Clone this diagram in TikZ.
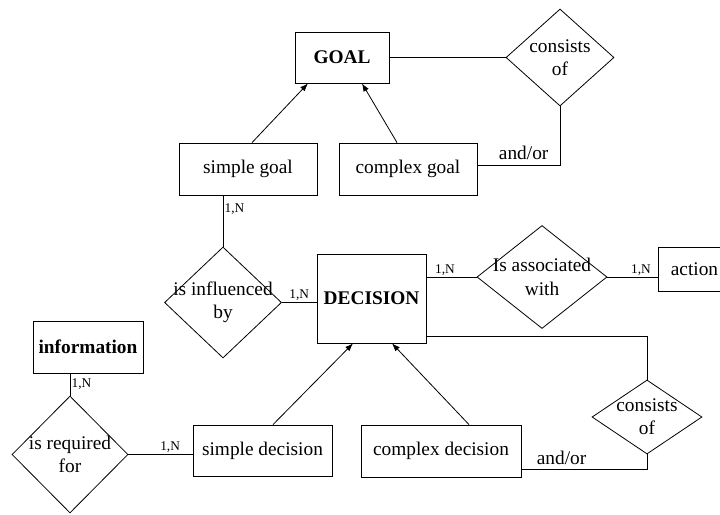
\documentclass[tikz,border=0pt]{standalone}
\usepackage{fontspec}
\setmainfont{Liberation Serif}
\usetikzlibrary{arrows.meta,shapes,positioning,calc}

\begin{document}
\begin{tikzpicture}[x=0.75pt,y=-0.75pt,line width=0.6pt,
	font=\fontsize{14.5}{17.5}\selectfont,
	>={Latex[length=6pt,width=4.5pt]},
	ent/.style={rectangle,draw,inner sep=0pt},
	rel/.style={diamond,draw,inner sep=0pt,label={[align=center]center:#1}},
	card/.style={font=\fontsize{10}{11}\selectfont,inner sep=1pt}]
		\clip (0,0) rectangle (720,514);

		\node[ent,minimum width=70.5pt,minimum height=38.25pt] (goal) at (342,57.5) {\textbf{GOAL}};
		\node[ent,minimum width=103.5pt,minimum height=39pt] (sgoal) at (248,169) {simple goal};
		\node[ent,minimum width=103.5pt,minimum height=39pt] (cgoal) at (408,169) {complex goal};
		\node[ent,minimum width=81.75pt,minimum height=66.75pt] (dec) at (371.5,298.5) {\textbf{DECISION}};
		\node[ent,minimum width=54.75pt,minimum height=33pt] (action) at (694.5,269) {action};
		\node[ent,minimum width=82.5pt,minimum height=39pt] (info) at (88,347) {\textbf{information}};
		\node[ent,minimum width=104.25pt,minimum height=38.25pt] (sdec) at (262.5,450.5) {simple decision};
		\node[ent,minimum width=120pt,minimum height=39pt] (cdec) at (441,451) {complex decision};

		\node[rel={consists\\of},minimum width=81pt,minimum height=72.75pt] (cons1) at (560,57.5) {};
		\node[rel={is influenced\\by},minimum width=87.75pt,minimum height=83.25pt] (infl) at (223,302.5) {};
		\node[rel={Is associated\\with},minimum width=97.5pt,minimum height=77.25pt] (assoc) at (542,277) {};
		\node[rel={consists\\of},minimum width=82.5pt,minimum height=55.5pt] (cons2) at (647,417) {};
		\node[rel={is required\\for},minimum width=87pt,minimum height=87.75pt] (req) at (70,454.5) {};

		% generalisations
		\draw[->] ($(sgoal.north)+(4,0)$) -- ($(goal.south)+(-34,0)$);
		\draw[->] ($(cgoal.north)+(-11,0)$) -- ($(goal.south)+(20,0)$);
		\draw[->] ($(sdec.north)+(10.5,0)$) -- ($(dec.south)+(-18.5,0)$);
		\draw[->] ($(cdec.north)+(28,0)$) -- ($(dec.south)+(20.5,0)$);

		% relationships
		\draw (goal.east) -- (cons1.west);
		\draw (cons1.south) |- ([yshift=3pt]cgoal.east) node[pos=0.72,above]{and/or};
		\draw (infl.north) -- (infl.north |- sgoal.south) node[pos=0.73,card,right]{1,N};
		\draw (infl.east) -- (infl.east -| dec.west) node[pos=0.5,card,above]{1,N};
		\draw (dec.east |- assoc.west) -- (assoc.west) node[pos=0.37,card,above]{1,N};
		\draw (assoc.east) -- (assoc.east -| action.west) node[pos=0.67,card,above]{1,N};
		\draw ([yshift=5.25pt]dec.south east) -| (cons2.north);
		\draw (cons2.south) |- ([yshift=6pt]cdec.south east) node[pos=0.84,above]{and/or};
		\draw (req.north) -- (req.north |- info.south) node[pos=0.5,card,right]{1,N};
		\draw (req.east) -- (req.east -| sdec.west) node[pos=0.65,card,above]{1,N};
	\end{tikzpicture}
\end{document}
